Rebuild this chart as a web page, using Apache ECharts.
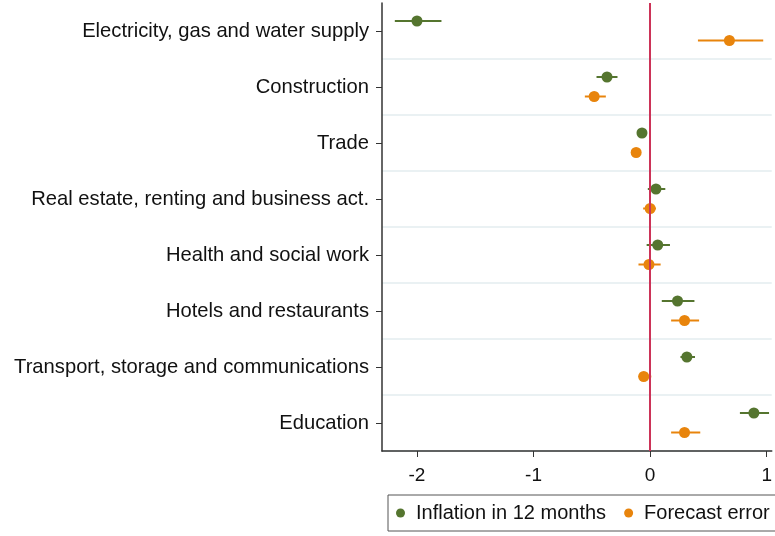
<!DOCTYPE html>
<html>
<head>
<meta charset="utf-8">
<script src="https://cdn.jsdelivr.net/npm/echarts@6/dist/echarts.min.js"></script>
<style>
  html, body { margin: 0; padding: 0; background: #fff; }
  #chart { width: 775px; height: 536px; }
</style>
</head>
<body>
<div id="chart"></div>
<script>
var categories = [
  'Electricity, gas and water supply',
  'Construction',
  'Trade',
  'Real estate, renting and business act.',
  'Health and social work',
  'Hotels and restaurants',
  'Transport, storage and communications',
  'Education'
]
var inflation     = [-2.0, -0.37, -0.07, 0.05, 0.065, 0.235, 0.315, 0.89]
var inflationLow  = [-2.19, -0.46, -0.10, -0.02, -0.03, 0.10, 0.26, 0.77]
var inflationHigh = [-1.79, -0.28, -0.03, 0.13, 0.17, 0.38, 0.385, 1.02]
var forecast      = [0.68, -0.48, -0.12, 0.0, -0.01, 0.295, -0.055, 0.295]
var forecastLow   = [0.41, -0.56, -0.14, -0.06, -0.10, 0.18, -0.10, 0.18]
var forecastHigh  = [0.97, -0.38, -0.10, 0.05, 0.09, 0.42, 0.01, 0.43]
var xTicks = [-2, -1, 0, 1]

var green = '#55752f'
var orange = '#e8840c'

function buildData(vals, lows, highs) {
  return vals.map(function (v, i) {
    return [v, i, lows[i], highs[i]]
  })
}

function makeRender(dy, color) {
  return function (params, api) {
    var c = api.coord([api.value(0), api.value(1)])
    var lo = api.coord([api.value(2), api.value(1)])
    var hi = api.coord([api.value(3), api.value(1)])
    var y = c[1] + dy
    return {
      type: 'group',
      children: [
        {
          type: 'line',
          shape: { x1: lo[0], y1: y, x2: hi[0], y2: y },
          style: { stroke: color, lineWidth: 2 }
        },
        {
          type: 'circle',
          shape: { cx: c[0], cy: y, r: 5.5 },
          style: { fill: color }
        }
      ]
    }
  }
}

var chart = echarts.init(document.getElementById('chart'))
chart.setOption({
  animation: false,
  textStyle: { fontFamily: 'Liberation Sans, Arial, sans-serif' },
  grid: { left: 382, top: 3, right: 0, bottom: 85 },
  xAxis: {
    type: 'value',
    min: -2.3,
    max: 1.043,
    axisLine: { show: true, onZero: false, lineStyle: { color: '#333', width: 1.5 } },
    axisTick: { show: true, length: 6, customValues: xTicks, lineStyle: { color: '#333' } },
    axisLabel: { customValues: xTicks, color: '#111', fontSize: 19, margin: 15 },
    splitLine: { show: false }
  },
  yAxis: {
    type: 'category',
    data: categories,
    inverse: true,
    axisLine: { show: true, onZero: false, lineStyle: { color: '#333', width: 1.5 } },
    axisTick: { show: true, alignWithLabel: true, length: 6, lineStyle: { color: '#333' } },
    axisLabel: { color: '#111', fontSize: 20.2, margin: 13 },
    splitLine: {
      show: true,
      interval: function (index) { return index !== 0 },
      lineStyle: { color: '#eaf1f3', width: 2 }
    }
  },
  legend: {
    data: [
      { name: 'Inflation in 12 months', icon: 'circle' },
      { name: 'Forecast error', icon: 'circle' }
    ],
    orient: 'horizontal',
    left: 388,
    top: 495,
    width: 420,
    itemWidth: 9,
    itemHeight: 9,
    itemGap: 18,
    padding: [8, 12, 8, 8],
    borderColor: '#555',
    borderWidth: 1,
    textStyle: { color: '#111', fontSize: 20, padding: [0, 0, 0, 6] }
  },
  series: [
    {
      type: 'scatter',
      name: 'zero',
      data: [],
      z: 1,
      markLine: {
        silent: true,
        symbol: 'none',
        label: { show: false },
        lineStyle: { color: '#cc3358', width: 2, type: 'solid' },
        data: [{ xAxis: 0 }]
      }
    },
    {
      type: 'custom',
      name: 'Inflation in 12 months',
      z: 3,
      itemStyle: { color: green },
      encode: { x: 0, y: 1 },
      renderItem: makeRender(-10, green),
      data: buildData(inflation, inflationLow, inflationHigh)
    },
    {
      type: 'custom',
      name: 'Forecast error',
      z: 3,
      itemStyle: { color: orange },
      encode: { x: 0, y: 1 },
      renderItem: makeRender(9.5, orange),
      data: buildData(forecast, forecastLow, forecastHigh)
    }
  ]
})
</script>
</body>
</html>
